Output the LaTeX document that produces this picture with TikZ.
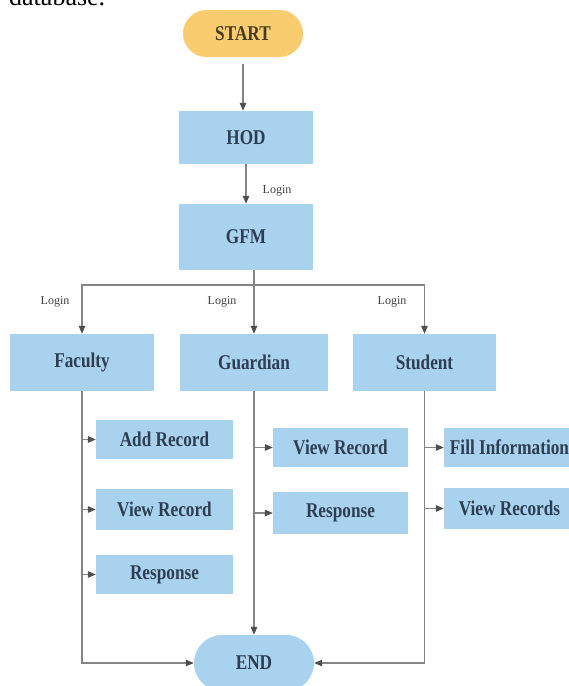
\documentclass[tikz,border=0pt]{standalone}
\usepackage{fontspec}
\setmainfont{Liberation Serif}
\newfontfamily\boxfont{Liberation Serif}[FakeStretch=0.82]
\usetikzlibrary{arrows.meta}
\definecolor{boxblue}{HTML}{A9D2EE}
\definecolor{startor}{HTML}{F9CC6F}
\definecolor{txtc}{HTML}{2E3E52}
\definecolor{brn}{HTML}{4A3B1F}
\definecolor{lnc}{HTML}{858585}
\definecolor{tipc}{HTML}{4F4F4F}
\definecolor{lblc}{HTML}{404040}
\begin{document}
\begin{tikzpicture}[x=1pt,y=-1pt,
  bx/.style={fill=boxblue, draw=none, inner sep=0pt, text=txtc,
    font=\boxfont\bfseries\fontsize{21}{21}\selectfont},
  sbx/.style={bx, minimum height=39pt},
  lbl/.style={inner sep=0pt, text=lblc, font=\fontsize{12}{12}\selectfont},
  conn/.style={draw=lnc, line width=1.2pt},
  arr/.style={conn, -{Triangle[length=8pt,width=6.5pt,color=tipc]}}
]
\useasboundingbox (0,0) rectangle (569,686);
\clip (0,0) rectangle (569,686);
\fill[white] (0,0) rectangle (569,686);

\node[anchor=base west, inner sep=0pt, font=\fontsize{26}{26}\selectfont] (db) at (9,5) {database.};

\node[bx, fill=startor, text=brn, minimum width=120pt, minimum height=47pt, rounded corners=23.5pt] (start) at (243,33.5) {START};
\node[bx, minimum width=134pt, minimum height=53pt] (hod) at (246,137.5) {HOD};
\node[bx, minimum width=134pt, minimum height=66pt] (gfm) at (246,237) {GFM};

\node[bx, minimum width=144pt, minimum height=57pt] (fac) at (82,362.5) {Faculty};
\node[bx, minimum width=148pt, minimum height=57pt] (gua) at (254,362.5) {Guardian};
\node[bx, minimum width=143pt, minimum height=57pt] (stu) at (424.5,362.5) {Student};

\node[sbx, minimum width=137pt] (fadd) at (164.5,439.5) {Add Record};
\node[sbx, minimum width=137pt, minimum height=41pt] (fview) at (164.5,509.5) {View Record};
\node[sbx, minimum width=137pt] (fresp) at (164.5,574.5) {Response};

\node[sbx, minimum width=135pt] (gview) at (340.5,447.5) {View Record};
\node[sbx, minimum width=135pt, minimum height=42pt] (gresp) at (340.5,513) {Response};

\node[sbx, minimum width=131pt] (sfill) at (509.5,447.5) {Fill Information};
\node[sbx, minimum width=131pt, minimum height=41pt] (sview) at (509.5,508.5) {View Records};

\node[bx, minimum width=120pt, minimum height=56pt, rounded corners=28pt] (end) at (254,663) {END};

% labels
\node[lbl] (l1) at (277,191) {Login};
\node[lbl] (l2) at (55,302) {Login};
\node[lbl] (l3) at (222,302) {Login};
\node[lbl] (l4) at (392,302) {Login};

% connectors
\draw[arr, shorten <=7pt] (start.south) -- (start.south |- hod.north);
\draw[arr] (hod) -- (gfm);
\coordinate (br) at (254,285);
\draw[conn] (gfm.south -| br) -- (br);
\draw[arr] (br) -| (fac.north);
\draw[arr] (br) -| (stu.north);
\draw[arr] (br) -- (gua.north);

\draw[arr] (fac.south) |- (end.west);
\draw[arr] (gua.south) -- (end.north);
\draw[arr] (stu.south) |- (end.east);

\draw[arr] (fac.south |- fadd.west) -- (fadd.west);
\draw[arr] (fac.south |- fview.west) -- (fview.west);
\draw[arr] (fac.south |- fresp.west) -- (fresp.west);
\draw[arr] (gua.south |- gview.west) -- (gview.west);
\draw[arr] (gua.south |- gresp.west) -- (gresp.west);
\draw[arr] (stu.south |- sfill.west) -- (sfill.west);
\draw[arr] (stu.south |- sview.west) -- (sview.west);
\end{tikzpicture}
\end{document}
